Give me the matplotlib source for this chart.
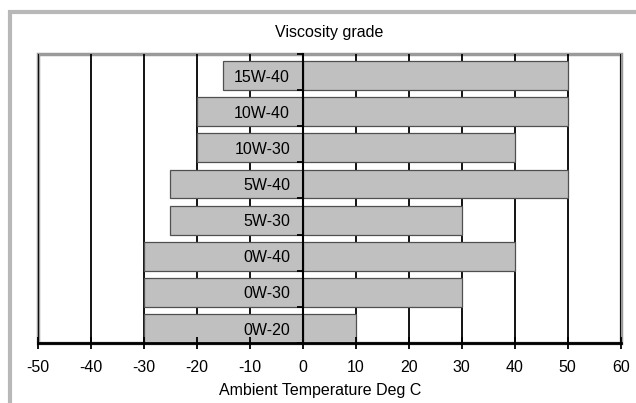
import numpy as np
import matplotlib
matplotlib.use("Agg")
from matplotlib import pyplot as plt
from matplotlib.patches import Rectangle

# viscosity grades, top to bottom, with their ambient temperature range
grades = ["15W-40", "10W-40", "10W-30", "5W-40", "5W-30", "0W-40", "0W-30", "0W-20"]
low_temp = [-15, -20, -20, -25, -25, -30, -30, -30]
high_temp = [50, 50, 40, 50, 30, 40, 30, 10]
x_ticks = list(range(-50, 61, 10))

plt.rcParams['font.family'] = ['Liberation Sans', 'DejaVu Sans']
plt.rcParams['axes.unicode_minus'] = False

fig = plt.figure(figsize=(6.36, 4.03), dpi=100)
ax = fig.add_axes([0.059, 0.149, 0.917, 0.717])

n = len(grades)
pos = np.arange(n)[::-1]

for x in x_ticks:
    ax.axvline(x, color='black', lw=1.3, zorder=1)

bar_kw = dict(height=0.8, align='edge', color='#c0c0c0', edgecolor='#505050', lw=0.9, zorder=2)
ax.barh(pos - 0.5, low_temp, **bar_kw)
ax.barh(pos - 0.5, high_temp, **bar_kw)

ax.set_xlim(-50, 60)
ax.set_ylim(-0.5, n - 0.5)
ax.set_xticks(x_ticks)
ax.set_xticklabels([str(v) for v in x_ticks], fontsize=11.5)
ax.tick_params(axis='x', direction='inout', length=8, width=1.3, pad=8)

# category axis crosses at 0
ax.spines['left'].set_position(('data', 0))
ax.spines['left'].set_linewidth(1.5)
ax.spines['left'].set_zorder(3)
ax.spines['top'].set_visible(False)
ax.spines['right'].set_visible(False)
ax.spines['bottom'].set_linewidth(2)
ax.set_yticks(pos - 0.1)
ax.set_yticklabels(grades, fontsize=11.5)
ax.set_yticks(np.arange(n + 1) - 0.5, minor=True)
ax.tick_params(axis='y', which='major', length=0, pad=9)
ax.tick_params(axis='y', which='minor', direction='out', length=4, width=1.3)
ax.yaxis.set_zorder(4)
ax.xaxis.set_zorder(4)

# plot area border
ax.add_patch(Rectangle((0, 0), 1, 1, transform=ax.transAxes, fill=False,
                       ec='#9a9a9a', lw=2.5, zorder=0, clip_on=False))
ax.spines['bottom'].set_zorder(3)

fig.text(329 / 636, 1 - 33 / 403, "Viscosity grade", ha='center', va='center', fontsize=11.5)
fig.text(320 / 636, 1 - 390 / 403, "Ambient Temperature Deg C", ha='center', va='center', fontsize=11.5)

# outer chart frame
fig.add_artist(Rectangle((10 / 636, -0.2), 1.2, 1.2 - 12 / 403, transform=fig.transFigure,
                         fill=False, ec='#b8b8b8', lw=3))

fig.savefig("out.png", dpi=100)
